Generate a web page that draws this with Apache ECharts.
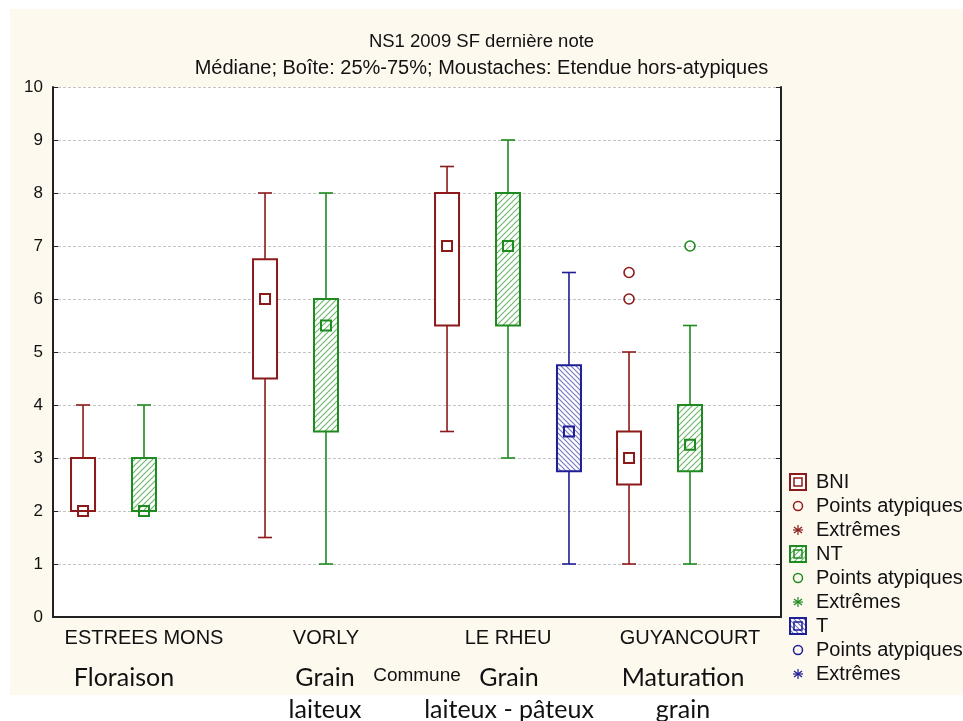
<!DOCTYPE html>
<html>
<head>
<meta charset="utf-8">
<script src="https://cdn.jsdelivr.net/npm/echarts@6/dist/echarts.min.js"></script>
<style>
  body { margin: 0; background: #ffffff; }
  #cream { position: absolute; left: 10px; top: 9px; width: 953px; height: 686px; background: #fdf9ef; }
  #main { position: absolute; left: 0; top: 0; width: 963px; height: 721px; }
</style>
</head>
<body>
<div id="cream"></div>
<div id="main"></div>
<script>
// communes (x categories)
var categories = ['ESTREES MONS', 'VORLY', 'LE RHEU', 'GUYANCOURT']
// [min, q1, median, q3, max] per commune, null = no box
var bniBox = [[2, 2, 2, 3, 4], [1.5, 4.5, 6, 6.75, 8], [3.5, 5.5, 7, 8, 8.5], [1, 2.5, 3, 3.5, 5]]
var ntBox = [[2, 2, 2, 3, 4], [1, 3.5, 5.5, 6, 8], [3, 5.5, 7, 8, 9], [1, 2.75, 3.25, 4, 5.5]]
var tBox = [null, null, [1, 2.75, 3.5, 4.75, 6.5], null]
// points atypiques [commune index, value]
var bniOutliers = [[3, 6], [3, 6.5]]
var ntOutliers = [[3, 7]]
var tOutliers = []
// stages written under the communes
var stages = [['Floraison'], ['Grain', 'laiteux'], ['Grain', 'laiteux - pâteux'], ['Maturation', 'grain']]

var RED = '#8c1a1a'
var GREEN = '#1f8a1f'
var BLUE = '#1e1e96'

function hatch (color, dir, step) {
  var c = document.createElement('canvas')
  c.width = step
  c.height = step
  var ctx = c.getContext('2d')
  ctx.fillStyle = '#ffffff'
  ctx.fillRect(0, 0, step, step)
  ctx.strokeStyle = color
  ctx.lineWidth = 1.2
  ctx.beginPath()
  if (dir > 0) {
    ctx.moveTo(-1, step + 1); ctx.lineTo(step + 1, -1)
    ctx.moveTo(-1, 1); ctx.lineTo(1, -1)
    ctx.moveTo(step - 1, step + 1); ctx.lineTo(step + 1, step - 1)
  } else {
    ctx.moveTo(-1, -1); ctx.lineTo(step + 1, step + 1)
    ctx.moveTo(step - 1, -1); ctx.lineTo(step + 1, 1)
    ctx.moveTo(-1, step - 1); ctx.lineTo(1, step + 1)
  }
  ctx.stroke()
  return { image: c, repeat: 'repeat' }
}

var ntFill = hatch('#6fb86f', 1, 6)
var tFill = hatch('#7a7ac4', -1, 5)

function toRows (boxes) {
  var rows = []
  boxes.forEach(function (b, i) {
    if (b) rows.push([i].concat(b))
  })
  return rows
}

function boxRender (slot, color, fill) {
  return function (params, api) {
    var i = api.value(0)
    var band = api.size([1, 0])[0]
    var cx = api.coord([i, 0])[0] + slot * band * 0.335
    var y = function (v) { return api.coord([i, v])[1] }
    var hw = 12
    var cap = 7
    var ms = 5
    var lineStyle = { stroke: color, lineWidth: 1.6 }
    return {
      type: 'group',
      children: [
        { type: 'line', shape: { x1: cx, y1: y(api.value(4)), x2: cx, y2: y(api.value(5)) }, style: lineStyle },
        { type: 'line', shape: { x1: cx - cap, y1: y(api.value(5)), x2: cx + cap, y2: y(api.value(5)) }, style: lineStyle },
        { type: 'line', shape: { x1: cx, y1: y(api.value(2)), x2: cx, y2: y(api.value(1)) }, style: lineStyle },
        { type: 'line', shape: { x1: cx - cap, y1: y(api.value(1)), x2: cx + cap, y2: y(api.value(1)) }, style: lineStyle },
        {
          type: 'rect',
          shape: { x: cx - hw, y: y(api.value(4)), width: hw * 2, height: y(api.value(2)) - y(api.value(4)) },
          style: { fill: fill, stroke: color, lineWidth: 2 }
        },
        {
          type: 'rect',
          shape: { x: cx - ms, y: y(api.value(3)) - ms, width: ms * 2, height: ms * 2 },
          style: { fill: 'none', stroke: color, lineWidth: 2 }
        }
      ]
    }
  }
}

function outlierRender (slot, color) {
  return function (params, api) {
    var i = api.value(0)
    var band = api.size([1, 0])[0]
    var p = api.coord([i, api.value(1)])
    return {
      type: 'circle',
      shape: { cx: p[0] + slot * band * 0.335, cy: p[1], r: 5 },
      style: { fill: 'none', stroke: color, lineWidth: 1.6 }
    }
  }
}

// legend drawn by hand (names repeat per group)
var legendItems = [
  ['box', RED, '#ffffff', 'BNI'], ['circle', RED, null, 'Points atypiques'], ['star', RED, null, 'Extrêmes'],
  ['box', GREEN, ntFill, 'NT'], ['circle', GREEN, null, 'Points atypiques'], ['star', GREEN, null, 'Extrêmes'],
  ['box', BLUE, tFill, 'T'], ['circle', BLUE, null, 'Points atypiques'], ['star', BLUE, null, 'Extrêmes']
]
var graphics = []
legendItems.forEach(function (it, k) {
  var cy = 482 + k * 24
  var cx = 798
  if (it[0] === 'box') {
    graphics.push({ type: 'rect', shape: { x: cx - 8, y: cy - 8, width: 16, height: 16 }, style: { fill: it[2], stroke: it[1], lineWidth: 2 } })
    graphics.push({ type: 'rect', shape: { x: cx - 4, y: cy - 4, width: 8, height: 8 }, style: { fill: 'none', stroke: it[1], lineWidth: 1.5 } })
  } else if (it[0] === 'circle') {
    graphics.push({ type: 'circle', shape: { cx: cx, cy: cy, r: 4.5 }, style: { fill: 'none', stroke: it[1], lineWidth: 1.5 } })
  } else {
    var s = 5
    ;[[0, -s, 0, s], [-s, 0, s, 0], [-4, -3, 4, 3], [-4, 3, 4, -3]].forEach(function (l) {
      graphics.push({ type: 'line', shape: { x1: cx + l[0], y1: cy + l[1], x2: cx + l[2], y2: cy + l[3] }, style: { stroke: it[1], lineWidth: 1.2 } })
    })
  }
  graphics.push({
    type: 'text', x: 816, y: cy,
    style: { text: it[3], fill: '#111', font: '20px "Liberation Sans"', textVerticalAlign: 'middle' }
  })
})

var stageX = [124, 325, 509, 683]
stages.forEach(function (lines, i) {
  lines.forEach(function (t, j) {
    graphics.push({
      type: 'text', x: stageX[i], y: 678 + j * 32,
      style: { text: t, fill: '#111', font: '25px Lato', textAlign: 'center', textVerticalAlign: 'middle' }
    })
  })
})

var chart = echarts.init(document.getElementById('main'))
chart.setOption({
  backgroundColor: 'transparent',
  animation: false,
  title: [
    { text: 'NS1 2009 SF dernière note', left: 'center', top: 27, textStyle: { fontSize: 18.5, fontWeight: 'normal', color: '#111', fontFamily: 'Liberation Sans' } },
    { text: 'Médiane; Boîte: 25%-75%; Moustaches: Etendue hors-atypiques', left: 'center', top: 53, textStyle: { fontSize: 20, fontWeight: 'normal', color: '#111', fontFamily: 'Liberation Sans' } }
  ],
  grid: { left: 53, top: 87, width: 728, height: 530, show: true, backgroundColor: '#ffffff', borderWidth: 0 },
  xAxis: [
    {
      type: 'category', data: categories, position: 'bottom',
      name: 'Commune', nameLocation: 'middle', nameGap: 49,
      nameTextStyle: { fontSize: 19, color: '#111', fontFamily: 'Liberation Sans' },
      axisLine: { lineStyle: { color: '#222', width: 2 } },
      axisTick: { inside: true, alignWithLabel: true, length: 5, lineStyle: { color: '#222' } },
      axisLabel: { interval: 0, fontSize: 20, color: '#111', margin: 11, fontFamily: 'Liberation Sans' },
      splitLine: { show: false }
    },
    {
      type: 'category', data: categories, position: 'top',
      axisLine: { lineStyle: { color: '#222', width: 2 } },
      axisTick: { inside: true, alignWithLabel: true, length: 5, lineStyle: { color: '#222' } },
      axisLabel: { show: false },
      splitLine: { show: false }
    }
  ],
  yAxis: [
    {
      type: 'value', min: 0, max: 10, interval: 1, position: 'left',
      axisLine: { show: true, lineStyle: { color: '#222', width: 2 } },
      axisTick: { show: true, inside: true, length: 5, lineStyle: { color: '#222' } },
      axisLabel: { fontSize: 17, color: '#111', margin: 10, fontFamily: 'Liberation Sans' },
      splitLine: { show: true, lineStyle: { color: '#c4c4c4', type: [3, 2], width: 1 } }
    },
    {
      type: 'value', min: 0, max: 10, interval: 1, position: 'right',
      axisLine: { show: true, lineStyle: { color: '#222', width: 2 } },
      axisTick: { show: true, inside: true, length: 5, lineStyle: { color: '#222' } },
      axisLabel: { show: false },
      splitLine: { show: false }
    }
  ],
  graphic: graphics,
  series: [
    { type: 'custom', name: 'BNI', renderItem: boxRender(-1, RED, '#ffffff'), data: toRows(bniBox), encode: { x: 0, y: [1, 2, 3, 4, 5] }, z: 3 },
    { type: 'custom', name: 'NT', renderItem: boxRender(0, GREEN, ntFill), data: toRows(ntBox), encode: { x: 0, y: [1, 2, 3, 4, 5] }, z: 3 },
    { type: 'custom', name: 'T', renderItem: boxRender(1, BLUE, tFill), data: toRows(tBox), encode: { x: 0, y: [1, 2, 3, 4, 5] }, z: 3 },
    { type: 'custom', name: 'BNI atypiques', renderItem: outlierRender(-1, RED), data: bniOutliers, encode: { x: 0, y: 1 }, z: 4 },
    { type: 'custom', name: 'NT atypiques', renderItem: outlierRender(0, GREEN), data: ntOutliers, encode: { x: 0, y: 1 }, z: 4 },
    { type: 'custom', name: 'T atypiques', renderItem: outlierRender(1, BLUE), data: tOutliers, encode: { x: 0, y: 1 }, z: 4 }
  ]
})
</script>
</body>
</html>
